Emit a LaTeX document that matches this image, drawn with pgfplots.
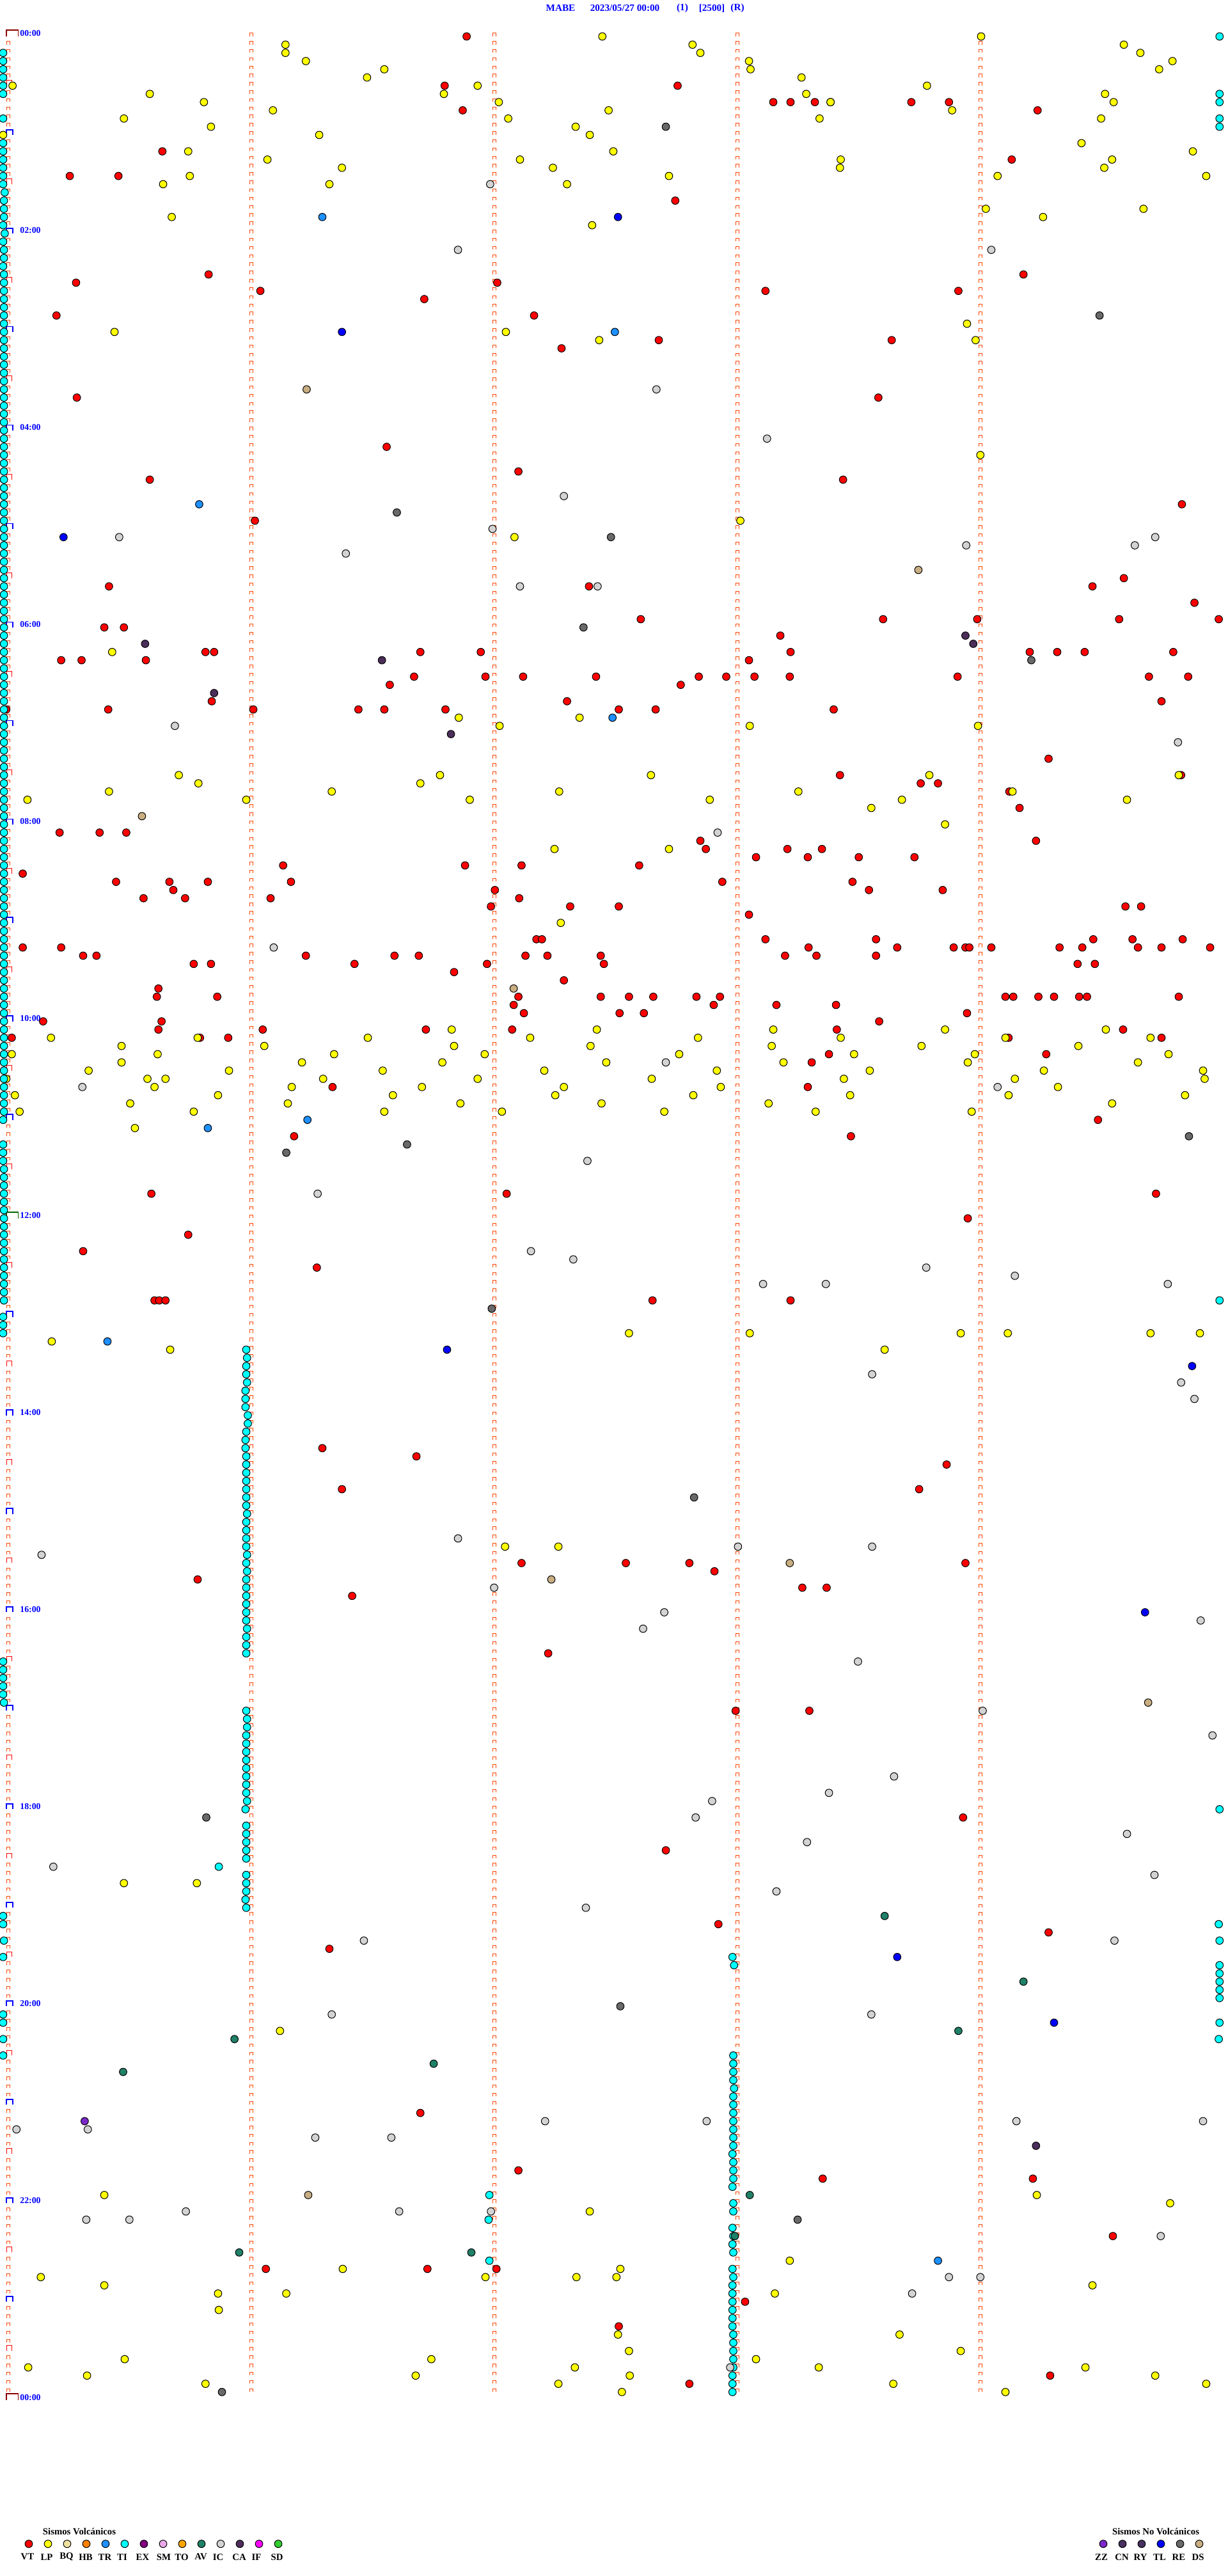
\documentclass[border=0pt]{standalone}
\usepackage{pgfplots}
\usepackage{pgfplotstable}
\usepackage{fontspec}
\setmainfont{Liberation Serif}
\pgfplotsset{compat=1.18}
\definecolor{cVT}{HTML}{FF0000}\definecolor{cLP}{HTML}{FFFF00}\definecolor{cBQ}{HTML}{F0E0A0}
\definecolor{cHB}{HTML}{FF8000}\definecolor{cTR}{HTML}{1E90FF}\definecolor{cTI}{HTML}{00FFFF}
\definecolor{cEX}{HTML}{800080}\definecolor{cSM}{HTML}{E8A8E8}\definecolor{cTO}{HTML}{FFA500}
\definecolor{cAV}{HTML}{208068}\definecolor{cIC}{HTML}{D3D3D3}\definecolor{cCA}{HTML}{4B2E5A}
\definecolor{cIF}{HTML}{FF00FF}\definecolor{cSD}{HTML}{32CD32}\definecolor{cZZ}{HTML}{7B28C8}
\definecolor{cCN}{HTML}{483060}\definecolor{cRY}{HTML}{483060}\definecolor{cTL}{HTML}{0000FF}
\definecolor{cRE}{HTML}{696969}\definecolor{cDS}{HTML}{C8AE82}
\definecolor{sqO}{HTML}{FF4500}\definecolor{sqD}{HTML}{8B0000}\definecolor{sqG}{HTML}{006400}
\pgfdeclareplotmark{sqS}{\pgfpathmoveto{\pgfpoint{-1.35pt}{0.15pt}}\pgfpathlineto{\pgfpoint{-1.35pt}{2.65pt}}\pgfpathlineto{\pgfpoint{1.35pt}{2.65pt}}\pgfpathlineto{\pgfpoint{1.35pt}{0.15pt}}\pgfusepathqstroke}
\pgfdeclareplotmark{sqR}{\pgfpathmoveto{\pgfpoint{-1.4pt}{0pt}}\pgfpathlineto{\pgfpoint{-1.4pt}{4.15pt}}\pgfpathlineto{\pgfpoint{2.85pt}{4.15pt}}\pgfpathlineto{\pgfpoint{2.85pt}{0pt}}\pgfusepathqstroke}
\pgfdeclareplotmark{sqB}{\pgfpathmoveto{\pgfpoint{-1.4pt}{0pt}}\pgfpathlineto{\pgfpoint{-1.4pt}{4.15pt}}\pgfpathlineto{\pgfpoint{3.6pt}{4.15pt}}\pgfpathlineto{\pgfpoint{3.6pt}{0pt}}\pgfusepathqstroke}
\pgfdeclareplotmark{sqD}{\pgfpathmoveto{\pgfpoint{-1.6pt}{0pt}}\pgfpathlineto{\pgfpoint{-1.6pt}{5pt}}\pgfpathlineto{\pgfpoint{7.8pt}{5pt}}\pgfpathlineto{\pgfpoint{7.8pt}{0pt}}\pgfusepathqstroke}
\pgfplotsset{ev/.style={only marks,mark=*,mark size=2.93pt,mark options={fill=c#1,draw=black,line width=0.5pt,solid}}}
\newcommand{\Tx}[4]{\node[font=\fontsize{#4}{#4}\selectfont\bfseries,text=black,inner sep=0pt,anchor=center] at (axis cs:{#1/1.2262},{(#2-57)/12.83}) {#3};}
\newcommand{\Bl}[4]{\node[font=\fontsize{#4}{#4}\selectfont\bfseries,text=cTL,inner sep=0pt,anchor=center] at (axis cs:{#1/1.2262},{(#2-57)/12.83}) {#3};}
\pgfplotstableread[row sep=\\]{k\\0\\1\\2\\3\\4\\5\\6\\7\\8\\9\\10\\11\\12\\13\\14\\15\\16\\17\\18\\19\\20\\21\\22\\23\\24\\25\\26\\27\\28\\29\\30\\31\\32\\33\\34\\35\\36\\37\\38\\39\\40\\41\\42\\43\\44\\45\\46\\47\\48\\49\\50\\51\\52\\53\\54\\55\\56\\57\\58\\59\\60\\61\\62\\63\\64\\65\\66\\67\\68\\69\\70\\71\\72\\73\\74\\75\\76\\77\\78\\79\\80\\81\\82\\83\\84\\85\\86\\87\\88\\89\\90\\91\\92\\93\\94\\95\\96\\97\\98\\99\\100\\101\\102\\103\\104\\105\\106\\107\\108\\109\\110\\111\\112\\113\\114\\115\\116\\117\\118\\119\\120\\121\\122\\123\\124\\125\\126\\127\\128\\129\\130\\131\\132\\133\\134\\135\\136\\137\\138\\139\\140\\141\\142\\143\\144\\145\\146\\147\\148\\149\\150\\151\\152\\153\\154\\155\\156\\157\\158\\159\\160\\161\\162\\163\\164\\165\\166\\167\\168\\169\\170\\171\\172\\173\\174\\175\\176\\177\\178\\179\\180\\181\\182\\183\\184\\185\\186\\187\\188\\189\\190\\191\\192\\193\\194\\195\\196\\197\\198\\199\\200\\201\\202\\203\\204\\205\\206\\207\\208\\209\\210\\211\\212\\213\\214\\215\\216\\217\\218\\219\\220\\221\\222\\223\\224\\225\\226\\227\\228\\229\\230\\231\\232\\233\\234\\235\\236\\237\\238\\239\\240\\241\\242\\243\\244\\245\\246\\247\\248\\249\\250\\251\\252\\253\\254\\255\\256\\257\\258\\259\\260\\261\\262\\263\\264\\265\\266\\267\\268\\269\\270\\271\\272\\273\\274\\275\\276\\277\\278\\279\\280\\281\\282\\283\\284\\285\\286\\287\\}\rowsT
\begin{document}
\begin{tikzpicture}
\path[use as bounding box] (0,0) rectangle (960pt,2013.5pt);
\begin{axis}[at={(0,0)},anchor=south west,scale only axis,width=960pt,height=2013.5pt,xmin=0,xmax=1565.8,ymin=-4.443,ymax=309.42,y dir=reverse,axis lines=none,clip=true]
% row ticks of the five columns
\addplot[only marks,mark=sqS,mark options={draw=sqO,line width=0.5pt,solid}] table[x expr=320.5,y=k] {\rowsT};
\addplot[only marks,mark=sqS,mark options={draw=sqO,line width=0.5pt,solid}] table[x expr=630.4,y=k] {\rowsT};
\addplot[only marks,mark=sqS,mark options={draw=sqO,line width=0.5pt,solid}] table[x expr=940.3,y=k] {\rowsT};
\addplot[only marks,mark=sqS,mark options={draw=sqO,line width=0.5pt,solid}] table[x expr=1250.2,y=k] {\rowsT};
\addplot[only marks,mark=sqS,mark options={draw=sqO,line width=0.5pt,solid},unbounded coords=discard,x filter/.expression={mod(\coordindex,6)==0 ? nan : x}] table[x expr=10.6,y=k] {\rowsT};
\addplot[only marks,mark=sqR,mark options={draw=cVT,line width=0.5pt,solid}] coordinates {(10.6,6)(10.6,18)(10.6,30)(10.6,42)(10.6,54)(10.6,66)(10.6,78)(10.6,90)(10.6,102)(10.6,114)(10.6,126)(10.6,138)(10.6,150)(10.6,162)(10.6,174)(10.6,186)(10.6,198)(10.6,210)(10.6,222)(10.6,234)(10.6,246)(10.6,258)(10.6,270)(10.6,282)};
\addplot[only marks,mark=sqB,mark options={draw=cTL,line width=0.9pt,solid}] coordinates {(10.6,12)(10.6,24)(10.6,36)(10.6,48)(10.6,60)(10.6,72)(10.6,84)(10.6,96)(10.6,108)(10.6,120)(10.6,132)(10.6,156)(10.6,168)(10.6,180)(10.6,192)(10.6,204)(10.6,216)(10.6,228)(10.6,240)(10.6,252)(10.6,264)(10.6,276)};
\addplot[only marks,mark=sqD,mark options={draw=sqD,line width=0.9pt,solid}] coordinates {(10.6,0)(10.6,288)};
\addplot[only marks,mark=sqD,mark options={draw=sqG,line width=0.9pt,solid}] coordinates {(10.6,144)};
% VT
\addplot[ev=VT] coordinates {(595,0)(567,6)(864,6)(986,8)(1008,8)(1039,8)(1059,8)(1162,8)(1210,8)(590,9)(1323,9)(207,14)(1290,15)(89,17)(151,17)(861,20)(266,29)(1305,29)(97,30)(634,30)(332,31)(976,31)(1222,31)(541,32)(72,34)(681,34)(840,37)(1137,37)(716,38)
(98,44)(1120,44)(493,50)(661,53)(191,54)(1075,54)(1507,57)(325,59)(1433,66)(139,67)(751,67)(1393,67)(1523,69)(817,71)(1126,71)(1246,71)(1427,71)(1554,71)(133,72)(158,72)(995,73)
(262,75)(273,75)(536,75)(613,75)(1008,75)(1313,75)(1348,75)(1383,75)(1496,75)(78,76)(104,76)(186,76)(955,76)(528,78)(619,78)(667,78)(760,78)(891,78)(926,78)(962,78)(1007,78)(1221,78)(1465,78)(1515,78)
(497,79)(868,79)(270,81)(723,81)(1481,81)(8,82)(138,82)(323,82)(457,82)(490,82)(568,82)(789,82)(836,82)(1063,82)(1337,88)(1071,90)(1506,90)(1174,91)(1196,91)(1287,92)(1300,94)(76,97)(127,97)(161,97)(893,98)(1321,98)(900,99)(1004,99)(1048,99)(964,100)(1030,100)(1095,100)(1166,100)(361,101)(593,101)(665,101)(815,101)(29,102)
(148,103)(216,103)(265,103)(371,103)(921,103)(1087,103)(221,104)(631,104)(1108,104)(1202,104)(183,105)(236,105)(345,105)(662,105)(626,106)(727,106)(789,106)(1435,106)(1455,106)(955,107)
(684,110)(691,110)(976,110)(1117,110)(1394,110)(1444,110)(1508,110)(29,111)(78,111)(1031,111)(1144,111)(1216,111)(1231,111)(1236,111)(1264,111)(1351,111)(1380,111)(1451,111)(1481,111)(1543,111)
(106,112)(123,112)(390,112)(503,112)(534,112)(670,112)(698,112)(766,112)(1001,112)(1041,112)(1117,112)(247,113)(269,113)(452,113)(621,113)(770,113)(1374,113)(1396,113)(579,114)(719,115)(202,116)
(200,117)(277,117)(661,117)(766,117)(802,117)(833,117)(888,117)(918,117)(1282,117)(1292,117)(1324,117)(1344,117)(1376,117)(1386,117)(1503,117)(655,118)(910,118)(990,118)(1066,118)(668,119)(790,119)(821,119)(1233,119)
(55,120)(206,120)(1121,120)(202,121)(335,121)(543,121)(653,121)(1067,121)(1432,121)(15,122)(255,122)(291,122)(1286,122)(1481,122)(1057,124)(1334,124)(1035,125)(424,128)(1030,128)(1400,132)(375,134)(1085,134)
(193,141)(646,141)(1474,141)(1234,144)(240,146)(106,148)(404,150)(197,154)(203,154)(211,154)(832,154)(1008,154)
(411,172)(531,173)(1207,174)(436,177)(1172,177)(665,186)(798,186)(879,186)(1231,186)(911,187)(252,188)(1023,189)(1054,189)(449,190)(699,197)(938,204)(1032,204)(1228,217)(849,221)(916,230)(1337,231)(420,233)
(536,253)(661,260)(1049,261)(1317,261)(1419,268)(339,272)(545,272)(633,272)(950,276)(789,279)(1339,285)(879,286)};
% LP
\addplot[ev=LP] coordinates {(768,0)(1251,0)(364,1)(883,1)(1433,1)(364,2)(893,2)(1454,2)(390,3)(955,3)(1495,3)(490,4)(957,4)(1478,4)(468,5)(1022,5)(16,6)(609,6)(1182,6)(191,7)(566,7)(1028,7)(1409,7)(260,8)(636,8)(1059,8)(1420,8)(348,9)(776,9)(1214,9)(158,10)(648,10)(1045,10)(1404,10)(269,11)(734,11)(4,12)(407,12)(752,12)(1379,13)(240,14)(782,14)(1521,14)(341,15)(663,15)(1072,15)(1418,15)(436,16)(705,16)(1071,16)(1408,16)(242,17)(853,17)(1272,17)(1538,17)(208,18)(420,18)(723,18)(1257,21)(1458,21)(219,22)(1330,22)(755,23)(1233,35)(146,36)(645,36)(764,37)(1244,37)
(1250,51)(944,59)(656,61)(143,75)(585,83)(739,83)(637,84)(956,84)(1247,84)(228,90)(561,90)(830,90)(1185,90)(1503,90)(253,91)(536,91)(139,92)(423,92)(713,92)(1018,92)(1291,92)(35,93)(314,93)(599,93)(905,93)(1150,93)(1437,93)(1111,94)(1205,96)(707,99)(853,99)(715,108)
(576,121)(761,121)(986,121)(1205,121)(1410,121)(65,122)(252,122)(469,122)(676,122)(890,122)(1072,122)(1282,122)(1467,122)(155,123)(337,123)(579,123)(753,123)(984,123)(1175,123)(1375,123)(15,124)(201,124)(426,124)(618,124)(866,124)(1089,124)(1243,124)(1490,124)
(155,125)(385,125)(564,125)(773,125)(999,125)(1234,125)(1451,125)(113,126)(292,126)(488,126)(694,126)(914,126)(1109,126)(1331,126)(1534,126)(8,127)(188,127)(211,127)(412,127)(609,127)(831,127)(1076,127)(1294,127)(1536,127)(197,128)(372,128)(538,128)(719,128)(919,128)(1349,128)
(19,129)(278,129)(501,129)(708,129)(884,129)(1084,129)(1286,129)(1511,129)(166,130)(367,130)(587,130)(767,130)(980,130)(1418,130)(25,131)(247,131)(490,131)(640,131)(847,131)(1040,131)(1239,131)(172,133)
(802,158)(956,158)(1225,158)(1285,158)(1467,158)(1530,158)(66,159)(217,160)(1128,160)(644,184)(712,184)(158,225)(251,225)(357,243)(133,263)(1322,263)(1492,264)(752,265)(1007,271)(437,272)(791,272)(52,273)(619,273)(735,273)(786,273)(133,274)(1393,274)(278,275)(365,275)(988,275)(279,277)(788,280)(1147,280)(802,282)(1225,282)(159,283)(550,283)(964,283)(36,284)(733,284)(1044,284)(1384,284)(111,285)(530,285)(803,285)(1473,285)(262,286)(712,286)(1139,286)(1538,286)(793,287)(1282,287)};
% TI
\addplot[ev=TI] coordinates {(4,2)(4,3)(4,4)(4,5)(4,6)(4,7)(4,10)(4,13)(4,14)(4,15)(4,16)(4,17)(4,18)(6,19)(5,20)(5,21)(5,22)(4,23)(6,24)(4,25)(5,26)(5,27)(4,28)(5,29)(5,30)(5,31)(5,32)(5,33)(5,34)(5,35)(5,36)(5,37)(5,38)(5,39)(5,40)(5,41)(5,42)(5,43)(5,44)(5,45)(5,46)(5,47)(5,48)(5,49)(5,50)(5,51)(5,52)(5,53)(5,54)(5,55)(5,56)(5,57)(5,58)(5,59)(5,60)(5,61)(5,62)(5,63)(5,64)(5,65)(5,66)(5,67)(5,68)(5,69)(5,70)(5,71)(5,72)(5,73)(5,74)(5,75)(5,76)(5,77)(5,78)(5,79)(5,80)(5,81)(5,82)(5,83)(5,84)(5,85)(5,86)(5,87)(5,88)(5,89)(5,90)(5,91)(5,92)(5,93)(5,94)(5,95)(5,96)(5,97)(5,98)(5,99)(5,100)(5,101)(5,102)(5,103)(5,104)(5,105)(5,106)(5,107)(5,108)(5,109)(5,110)(5,111)(5,112)(5,113)(5,114)(5,115)(5,116)(5,117)(5,118)(5,119)(5,120)(5,121)(5,122)(5,123)(5,124)(5,125)(5,126)(5,127)(5,128)(5,129)(5,130)(5,131)(4,132)
(4,135)(4,136)(4,137)(5,138)(5,139)(5,140)(5,141)(5,142)(5,143)(5,144)(5,145)(5,146)(5,147)(5,148)(5,149)(5,150)(5,151)(5,152)(5,153)(5,154)(4,156)(4,157)(4,158)(4,198)(4,199)(4,200)(4,201)(4,202)(5,203)(4,229)(4,230)(5,232)(4,234)(4,241)(4,242)(4,244)(4,246)
(1555,0)(1555,7)(1555,8)(1555,10)(1555,11)(1555,154)(1555,216)(279,223)(1554,230)(1555,232)(1555,235)(1555,236)(1555,237)(1555,238)(1555,239)(1555,242)(1554,244)
(314,160)(315,161)(314,162)(314,163)(315,164)(313,165)(313,166)(313,167)(316,168)(316,169)(314,170)(313,171)(313,172)(314,173)(314,174)(314,175)(314,176)(314,177)(314,178)(314,179)(315,180)(314,181)(314,182)(314,183)(314,184)(315,185)(314,186)(315,187)(314,188)(314,189)(314,190)(314,191)(314,192)(314,193)(315,194)(314,195)(314,196)(314,197)
(314,204)(315,205)(315,206)(314,207)(314,208)(314,209)(314,210)(314,211)(314,212)(314,213)(314,214)(315,215)(313,216)(314,218)(314,219)(314,220)(314,221)(314,222)(314,224)(314,225)(314,226)(313,227)(314,228)
(934,234)(936,235)(935,246)(935,247)(935,248)(935,249)(936,250)(935,251)(935,252)(935,253)(935,254)(935,255)(935,256)(935,257)(934,258)(935,259)(935,260)(935,261)(934,262)(935,264)(935,265)(934,267)(935,268)(934,269)(935,270)(934,272)(935,273)(934,274)(934,275)(934,276)(934,277)(934,278)(934,279)(935,280)(935,281)(935,282)(935,283)(935,284)(934,285)(934,286)(934,287)
(624,263)(623,266)(624,271)};
% TR
\addplot[ev=TR] coordinates {(411,22)(784,36)(254,57)(781,83)(392,132)(265,133)(137,159)(1196,271)};
% TL
\addplot[ev=TL] coordinates {(788,22)(436,36)(81,61)(570,160)(1520,162)(1460,192)(1144,234)(1344,242)};
% RE
\addplot[ev=RE] coordinates {(849,11)(1402,34)(506,58)(779,61)(744,72)(1315,76)(1516,134)(519,135)(365,136)(627,155)(885,178)(263,217)(791,240)(1017,266)(283,287)};
% IC
\addplot[ev=IC] coordinates {(625,18)(584,26)(1264,26)(837,43)(978,49)(719,56)(628,60)(152,61)(1473,61)(1232,62)(1447,62)(441,63)(663,67)(762,67)(223,84)(1502,86)(915,97)(349,111)(849,125)(105,128)(1272,128)(749,137)(405,141)(677,148)(731,149)(1181,150)(1294,151)(973,152)(1053,152)(1489,152)(1112,163)(1506,164)(1523,166)(584,183)(941,184)(1112,184)(53,185)(630,189)(847,192)(1531,193)(820,194)(1094,198)(1253,204)(1546,207)(1140,212)(1057,214)(908,215)(887,217)(1437,219)(1029,220)(68,223)(1472,224)(990,226)(747,228)(464,232)(1421,232)(423,241)(1111,241)(695,254)(901,254)(1296,254)(1534,254)(21,255)(112,255)(402,256)(499,256)(237,265)(509,265)(626,265)(110,266)(165,266)(1480,268)(1210,273)(1250,273)(1163,275)(931,284)};
% DS
\addplot[ev=DS] coordinates {(391,43)(1171,65)(181,95)(655,116)(1007,186)(703,188)(1464,203)(393,263)};
% CA
\addplot[ev=CA] coordinates {(1231,73)(185,74)(1241,74)(487,76)(273,80)(575,85)(1321,257)};
% AV
\addplot[ev=AV] coordinates {(1128,229)(1305,237)(1222,243)(299,244)(553,247)(157,248)(956,263)(937,268)(305,270)(601,270)};
% ZZ
\addplot[ev=ZZ] coordinates {(108,254)};
% legend marks
\addplot[ev=VT] coordinates {(36.7,305.5)};\addplot[ev=LP] coordinates {(61.2,305.5)};\addplot[ev=BQ] coordinates {(85.6,305.5)};\addplot[ev=HB] coordinates {(110.1,305.5)};\addplot[ev=TR] coordinates {(134.6,305.5)};\addplot[ev=TI] coordinates {(159,305.5)};\addplot[ev=EX] coordinates {(183.5,305.5)};\addplot[ev=SM] coordinates {(208,305.5)};\addplot[ev=TO] coordinates {(232.4,305.5)};\addplot[ev=AV] coordinates {(256.9,305.5)};\addplot[ev=IC] coordinates {(281.4,305.5)};\addplot[ev=CA] coordinates {(305.8,305.5)};\addplot[ev=IF] coordinates {(330.3,305.5)};\addplot[ev=SD] coordinates {(354.8,305.5)};
\addplot[ev=ZZ] coordinates {(1406.8,305.5)};\addplot[ev=CN] coordinates {(1431.3,305.5)};\addplot[ev=RY] coordinates {(1455.7,305.5)};\addplot[ev=TL] coordinates {(1480.2,305.5)};\addplot[ev=RE] coordinates {(1504.7,305.5)};\addplot[ev=DS] coordinates {(1529.1,305.5)};
% title
\Bl{876.5}{13}{MABE}{7.6pt}\Bl{977}{13}{2023/05/27 00:00}{7.6pt}\Bl{1067}{13}{(1)}{7.6pt}\Bl{1113}{13}{[2500]}{7.6pt}\Bl{1153}{13}{(R)}{7.6pt}
% time labels
\Bl{47.5}{52}{00:00}{6.9pt}\Bl{47.5}{360}{02:00}{6.9pt}\Bl{47.5}{668}{04:00}{6.9pt}\Bl{47.5}{976}{06:00}{6.9pt}\Bl{47.5}{1284}{08:00}{6.9pt}\Bl{47.5}{1592}{10:00}{6.9pt}\Bl{47.5}{1900}{12:00}{6.9pt}\Bl{47.5}{2208}{14:00}{6.9pt}\Bl{47.5}{2516}{16:00}{6.9pt}\Bl{47.5}{2824}{18:00}{6.9pt}\Bl{47.5}{3132}{20:00}{6.9pt}\Bl{47.5}{3440}{22:00}{6.9pt}\Bl{47.5}{3748}{00:00}{6.9pt}
% legend text
\Tx{124}{3957}{Sismos Volcánicos}{7.4pt}\Tx{1807}{3957}{Sismos No Volcánicos}{7.4pt}
\Tx{43}{3997}{VT}{7.4pt}\Tx{73}{3997}{LP}{7.4pt}\Tx{104}{3997}{BQ}{7.4pt}\Tx{134}{3997}{HB}{7.4pt}\Tx{164}{3997}{TR}{7.4pt}\Tx{191}{3997}{TI}{7.4pt}\Tx{223}{3997}{EX}{7.4pt}\Tx{256}{3997}{SM}{7.4pt}\Tx{284}{3997}{TO}{7.4pt}\Tx{314}{3997}{AV}{7.4pt}\Tx{341}{3997}{IC}{7.4pt}\Tx{374}{3997}{CA}{7.4pt}\Tx{401}{3997}{IF}{7.4pt}\Tx{433}{3997}{SD}{7.4pt}
\Tx{1722}{3997}{ZZ}{7.4pt}\Tx{1754}{3997}{CN}{7.4pt}\Tx{1783}{3997}{RY}{7.4pt}\Tx{1813}{3997}{TL}{7.4pt}\Tx{1843}{3997}{RE}{7.4pt}\Tx{1873}{3997}{DS}{7.4pt}
\end{axis}
\end{tikzpicture}
\end{document}
